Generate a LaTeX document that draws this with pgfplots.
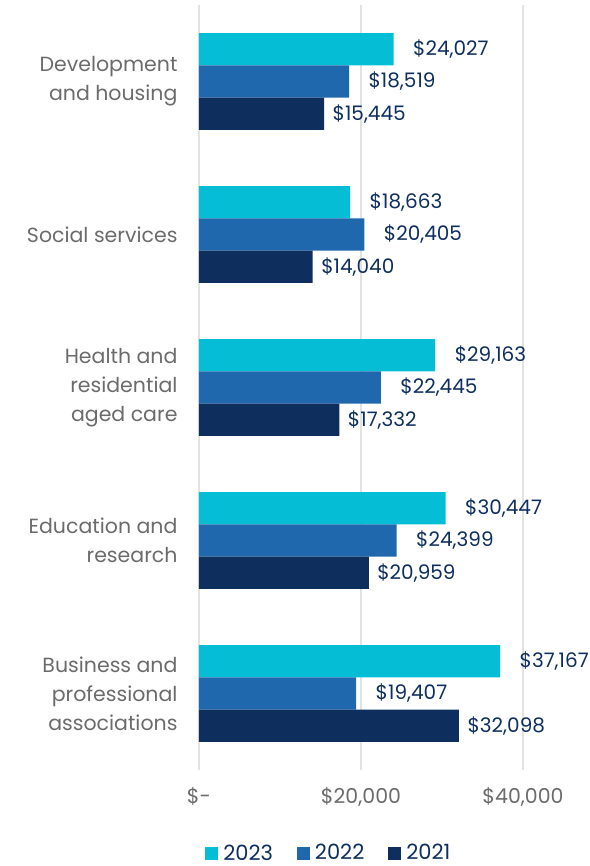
\documentclass[border=0pt]{standalone}
\usepackage{pgfplots}
\pgfplotsset{compat=1.18}
\usepackage{fontspec}
\setmainfont{Poppins}
\definecolor{c23}{HTML}{05BED6}
\definecolor{c22}{HTML}{1F68AD}
\definecolor{c21}{HTML}{0E2F5E}
\definecolor{txtgray}{HTML}{6B6B6B}
\definecolor{gridc}{HTML}{E2E2E0}
\begin{document}
\begin{tikzpicture}
\path[use as bounding box] (-199pt,-96pt) rectangle (390pt,770pt);
\begin{axis}[
  at={(0,0)}, anchor=south west,
  scale only axis,
  width=390pt, height=765pt,
  xmin=0, xmax=48148,
  ymin=-0.5, ymax=4.5,
  y dir=reverse,
  xbar, bar width=0.211,
  axis line style={draw=none},
  major tick length=0pt,
  scaled x ticks=false,
  xtick={0,20000,40000},
  xticklabels={{\$-},{\$20,000},{\$40,000}},
  ytick={0,1,2,3,4},
  yticklabels={{Development\\and housing}, {Social services}, {Health and\\residential\\aged care}, {Education and\\research}, {Business and\\professional\\associations}},
  yticklabel style={align=right, font=\fontsize{20.5}{29}\selectfont, text=txtgray, xshift=-18pt},
  xticklabel style={font=\fontsize{20.5}{24}\selectfont, text=txtgray, yshift=-14pt},
  xmajorgrids, grid style={gridc, line width=1.4pt},
  point meta=x,
  nodes near coords={\$\pgfmathprintnumber[fixed, precision=0, 1000 sep={,}, assume math mode=true]{\pgfplotspointmeta}},
  nodes near coords style={font=\fontsize{20}{24}\selectfont, text=c21, anchor=west},
  legend style={at={(0.333,-0.1085)}, anchor=center, legend columns=3, draw=none,
    font=\fontsize{21}{24}\selectfont, text=c21, column sep=0pt,
    /tikz/every odd column/.append style={column sep=3pt},
    /tikz/every even column/.append style={column sep=22pt}},
  legend image code/.code={\fill[#1] (0pt,-6.5pt) rectangle (13pt,6.5pt);},
]
\addplot[fill=c23, draw=none, bar shift=-0.211, nodes near coords style={xshift=16pt}] coordinates {
 (24027,0) (18663,1) (29163,2) (30447,3) (37167,4)};
\addplot[fill=c22, draw=none, bar shift=0, nodes near coords style={xshift=16pt}] coordinates {
 (18519,0) (20405,1) (22445,2) (24399,3) (19407,4)};
\addplot[fill=c21, draw=none, bar shift=0.211, nodes near coords style={xshift=5pt}] coordinates {
 (15445,0) (14040,1) (17332,2) (20959,3) (32098,4)};
\legend{2023,2022,2021}
\end{axis}
\end{tikzpicture}
\end{document}
